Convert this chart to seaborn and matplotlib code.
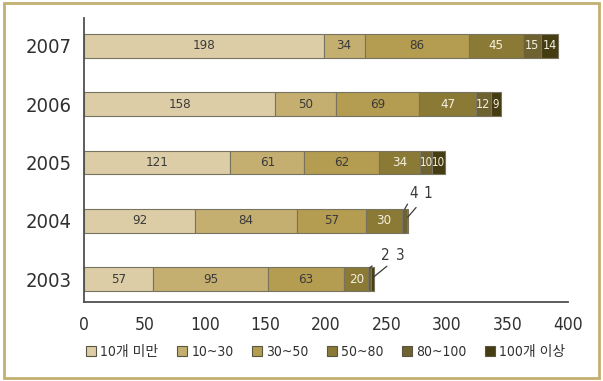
import numpy as np
import pandas as pd
import matplotlib
matplotlib.use("Agg")
import matplotlib.pyplot as plt
from matplotlib.patches import Rectangle, Patch
import seaborn as sns

# --- data -------------------------------------------------------------
years = ["2007", "2006", "2005", "2004", "2003"]
groups = ["10개 미만", "10~30", "30~50", "50~80", "80~100", "100개 이상"]
under10 = [198, 158, 121, 92, 57]
g10_30 = [34, 50, 61, 84, 95]
g30_50 = [86, 69, 62, 57, 63]
g50_80 = [45, 47, 34, 30, 20]
g80_100 = [15, 12, 10, 4, 2]
over100 = [14, 9, 10, 1, 3]
x_ticks = [0, 50, 100, 150, 200, 250, 300, 350, 400]

series = [under10, g10_30, g30_50, g50_80, g80_100, over100]
colors = ["#dccda6", "#c4ae70", "#b49c50", "#8b7a36", "#6e6230", "#463c12"]
text_colors = ["#3a3a3a", "#3a3a3a", "#3a3a3a", "#f4f0de", "#f4f0de", "#f4f0de"]

df = pd.DataFrame({
    "year": np.repeat(years, len(groups)),
    "group": groups * len(years),
    "value": [series[g][y] for y in range(len(years)) for g in range(len(groups))],
})
df["left"] = df.groupby("year", sort=False)["value"].cumsum() - df["value"]

sns.set_theme(style="white")
plt.rcParams["font.family"] = ["DejaVu Sans", "Noto Sans CJK KR"]
plt.rcParams["font.stretch"] = "condensed"

fig = plt.figure(figsize=(6.03, 3.81), dpi=100)
ax = fig.add_axes([0.1393, 0.2073, 0.8027, 0.7455])

for gi, grp in enumerate(groups):
    sub = df[df["group"] == grp].set_index("year").loc[years].reset_index()
    sns.barplot(data=sub, y="year", x="value", order=years, orient="h",
                color=colors[gi], saturation=1, width=0.41,
                left=sub["left"].to_numpy(), edgecolor="#77735f", linewidth=0.8,
                ax=ax)
    for yi, row in sub.iterrows():
        if row["value"] >= 9:
            ax.text(row["left"] + row["value"] / 2, yi, str(row["value"]),
                    ha="center", va="center",
                    fontsize=8.3 if row["value"] <= 10 else (9 if row["value"] < 16 else 9.5),
                    color=text_colors[gi])

# leader-line labels for the slimmest segments
small_labels = [
    # (year index, group index, label x, label y offset, bar anchor y offset)
    (3, 4, 272.5, -0.47, -0.20),
    (3, 5, 284.5, -0.47, -0.06),
    (4, 4, 249.0, -0.40, -0.19),
    (4, 5, 261.0, -0.40, -0.02),
]
for yi, gi, lx, dy, ay in small_labels:
    row = df[(df["year"] == years[yi]) & (df["group"] == groups[gi])].iloc[0]
    px = row["left"] + row["value"] / 2
    ax.annotate(str(row["value"]), xy=(px, yi + ay),
                xytext=(lx, yi + dy), ha="center", va="center", fontsize=11,
                color="#3a3a3a",
                arrowprops=dict(arrowstyle="-", color="#3a3a3a", lw=0.9,
                                shrinkA=5, shrinkB=0))

ax.set_xlim(0, 400)
ax.set_ylim(4.395, -0.48)
ax.set_xticks(x_ticks)
ax.set_xticklabels([str(t) for t in x_ticks])
ax.set_xlabel("")
ax.set_ylabel("")
for side in ["top", "right"]:
    ax.spines[side].set_visible(False)
for side in ["left", "bottom"]:
    ax.spines[side].set_color("#505050")
    ax.spines[side].set_linewidth(1.3)
ax.tick_params(axis="x", direction="in", length=7, width=1.3, color="#303030",
               labelsize=12.5, labelcolor="#303030", pad=10)
ax.tick_params(axis="y", direction="in", length=10, width=1.6, color="#505050",
               labelsize=14.5, labelcolor="#303030", pad=9)
ax.set_zorder(1)

handles = [Patch(facecolor=c, edgecolor="#5a5540", linewidth=0.8) for c in colors]
fig.legend(handles, groups, loc="center", bbox_to_anchor=(0.54, 0.076), ncol=6,
           frameon=False, fontsize=10, handlelength=0.75, handleheight=0.75,
           handletextpad=0.3, columnspacing=1.3, labelcolor="#303030")

fig.patches.append(Rectangle((0.006, 0.008), 0.988, 0.984, transform=fig.transFigure,
                             fill=False, edgecolor="#c2b071", linewidth=2.0))

fig.savefig("out.png", dpi=100)
